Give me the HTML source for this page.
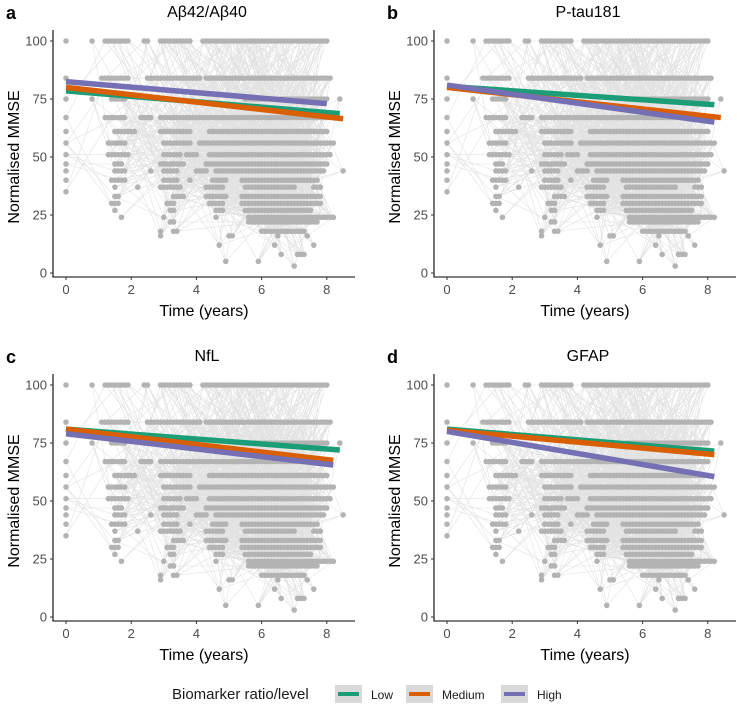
<!DOCTYPE html>
<html><head><meta charset="utf-8">
<style>
html,body{margin:0;padding:0;background:#fff;}
svg{display:block;font-family:"Liberation Sans",Arial,sans-serif;}
</style></head>
<body>
<svg id="chart" width="740" height="714" viewBox="0 0 740 714" xmlns="http://www.w3.org/2000/svg">
<g id="panels"></g>
<g id="legend">
  <text x="172" y="699" font-size="15" fill="#1a1a1a">Biomarker ratio/level</text>
  <rect x="335" y="685" width="27" height="18" fill="#d9d9d9"/>
  <line x1="338" y1="694" x2="359" y2="694" stroke="#1b9e77" stroke-width="4"/>
  <text x="371" y="699" font-size="12" fill="#1a1a1a">Low</text>
  <rect x="406" y="685" width="27" height="18" fill="#d9d9d9"/>
  <line x1="409" y1="694" x2="430" y2="694" stroke="#d95f02" stroke-width="4"/>
  <text x="442" y="699" font-size="12" fill="#1a1a1a">Medium</text>
  <rect x="501" y="685" width="27" height="18" fill="#d9d9d9"/>
  <line x1="504" y1="694" x2="525" y2="694" stroke="#7570b3" stroke-width="4"/>
  <text x="537" y="699" font-size="12" fill="#1a1a1a">High</text>
</g>
</svg>
<script>
// Data
const panelLetters = ["a","b","c","d"];
const panelTitles = ["Aβ42/Aβ40","P-tau181","NfL","GFAP"];
const xTicks = [0,2,4,6,8];
const yTicks = [0,25,50,75,100];
const groupNames = ["low","medium","high"];
const groupColors = ["#1b9e77","#d95f02","#7570b3"];
// trend lines per panel: [startMMSE, endMMSE, endTime] for low, medium, high
const trendA = [[78.5,68.7,8.4],[80,66.5,8.5],[82.5,73,8.0]];
const trendB = [[80.5,72.5,8.2],[80,67,8.4],[81,65,8.2]];
const trendC = [[81,72,8.4],[81,67.5,8.2],[79,65.5,8.2]];
const trendD = [[81,71.5,8.2],[80.5,70,8.2],[80,60.5,8.2]];
const trends = [trendA,trendB,trendC,trendD];
// observation clusters: [tStart, tEnd, MMSE]
const clusters = [
 [0,0,100],[0.8,0.8,100],[1.2,1.9,100],[2.4,2.5,100],[2.9,3.8,100],[4.2,8.0,100],
 [0,0,84],[1.1,1.9,84],[2.5,4.1,84],[4.3,8.1,84],
 [0,0,75],[0.8,0.8,75],[1.4,1.8,75],[5.5,8.0,75],[8.4,8.4,75],
 [0,0,67],[1.2,1.8,67],[2.3,2.6,67],[2.9,8.0,67],
 [0,0,61],[1.5,2.1,61],[2.9,3.8,61],[4.4,8.0,61],
 [0,0,56],[1.3,1.8,56],[3.0,3.8,56],[4.1,8.2,56],
 [0,0,51],[1.3,1.9,51],[3.0,3.5,51],[3.7,4.0,51],[4.4,8.1,51],
 [0,0,47],[1.5,1.7,47],[2.9,3.6,47],[4.3,8.0,47],
 [0,0,44],[1.5,1.8,44],[2.6,2.6,44],[3.0,3.4,44],[4.0,4.3,44],[4.6,7.9,44],[8.5,8.5,44],
 [0,0,40],[1.4,1.8,40],[3.0,3.4,40],[3.8,3.8,40],[4.5,4.9,40],[5.4,7.7,40],
 [0,0,35],[1.5,1.5,37],[2.2,2.2,37],[2.9,3.5,37],[4.3,4.8,37],[5.5,7.0,37],[7.6,7.8,37],
 [1.5,1.6,33],[3.3,3.6,33],[4.3,4.9,33],[5.4,7.8,33],
 [1.4,1.6,30],[3.1,3.3,30],[4.4,4.8,30],[5.4,7.8,30],
 [1.5,1.5,27],[3.2,3.3,27],[4.6,4.8,27],[5.5,7.5,27],
 [1.7,1.7,24],[3.0,3.0,24],[4.6,4.6,24],[5.6,8.2,24],
 [3.2,3.3,22],[5.6,7.7,22],
 [2.9,2.9,18],[3.3,3.4,18],[6.0,7.3,18],
 [2.9,2.9,16],[5.0,5.1,16],[6.5,6.5,16],[7.4,7.4,16],
 [4.7,4.7,12],[6.4,6.4,12],[7.6,7.6,12],
 [6.6,6.6,8],[7.1,7.3,8],[4.9,4.9,5],[5.9,5.9,5],[7.0,7.0,3]
];

const NS="http://www.w3.org/2000/svg";
const root=document.getElementById('panels');
function mk(tag,attrs,parent){const e=document.createElementNS(NS,tag);for(const k in attrs)e.setAttribute(k,attrs[k]);parent.appendChild(e);return e;}

const dots=[];
clusters.forEach(c=>{for(let t=c[0];t<=c[1]+1e-6;t+=0.1)dots.push([t,c[2]]);});

panelLetters.forEach((letter,p)=>{
  const ox=(p%2)*381, oy=Math.floor(p/2)*344;
  const xs=t=>ox+66+t*32.6;
  const ys=v=>oy+273-v*2.32;
  const g=mk('g',{},root);
  
  
  const lg=mk('g',{stroke:'#cfcfcf','stroke-width':'0.6',opacity:'0.6'},g);
  
  
  const N=dots.length;
  let d='';
  for(let i=0;i<N;i++){
    for(let k=1;k<=9;k++){
      const j=(i*37+k*101)%N;
      const dt=dots[j][0]-dots[i][0];
      if(dt>0.6&&dt<2.6){
        d+=`M${xs(dots[i][0]).toFixed(1)},${ys(dots[i][1]).toFixed(1)}L${xs(dots[j][0]).toFixed(1)},${ys(dots[j][1]).toFixed(1)}`;
      }
    }
  }
  mk('path',{d:d,fill:'none'},lg);
  const dg=mk('g',{fill:'#b3b3b3'},g);
  
  
  dots.forEach(dd=>{mk('circle',{cx:xs(dd[0]),cy:ys(dd[1]),r:2.8},dg);});
  trends[p].forEach((tr,gi)=>{
    const l=mk('line',{x1:xs(0),y1:ys(tr[0]),x2:xs(tr[2]),y2:ys(tr[1]),stroke:groupColors[gi],'stroke-width':'5.5'},g);
    
    
  });
  const ax=mk('path',{d:`M${ox+53},${oy+30} V${oy+277} H${ox+355}`,fill:'none',stroke:'#000','stroke-width':'1.1'},g);
  
  
  yTicks.forEach(v=>{
    mk('line',{x1:ox+50,x2:ox+53,y1:ys(v),y2:ys(v),stroke:'#333'},g);
    const t=mk('text',{x:ox+47,y:ys(v)+4.5,'text-anchor':'end','font-size':'13',fill:'#4d4d4d'},g);
    t.textContent=v;
    
    
  });
  xTicks.forEach(v=>{
    mk('line',{x1:xs(v),x2:xs(v),y1:oy+277,y2:oy+280,stroke:'#333'},g);
    const t=mk('text',{x:xs(v),y:oy+294,'text-anchor':'middle','font-size':'13',fill:'#4d4d4d'},g);
    t.textContent=v;
    
    
  });
  const xt=mk('text',{x:ox+204,y:oy+316,'text-anchor':'middle','font-size':'16',fill:'#000'},g);
  xt.textContent='Time (years)';
  
  
  const yt=mk('text',{x:0,y:0,'text-anchor':'middle','font-size':'16',fill:'#000',transform:`translate(${ox+19},${oy+157}) rotate(-90)`},g);
  yt.textContent='Normalised MMSE';
  
  
  const tt=mk('text',{x:ox+207,y:oy+17,'text-anchor':'middle','font-size':'16',fill:'#000'},g);
  tt.textContent=panelTitles[p];
  
  
  const lt=mk('text',{x:ox+6,y:oy+19,'font-size':'18','font-weight':'bold',fill:'#000'},g);
  lt.textContent=letter;
  
  
});
</script>
</body></html>
